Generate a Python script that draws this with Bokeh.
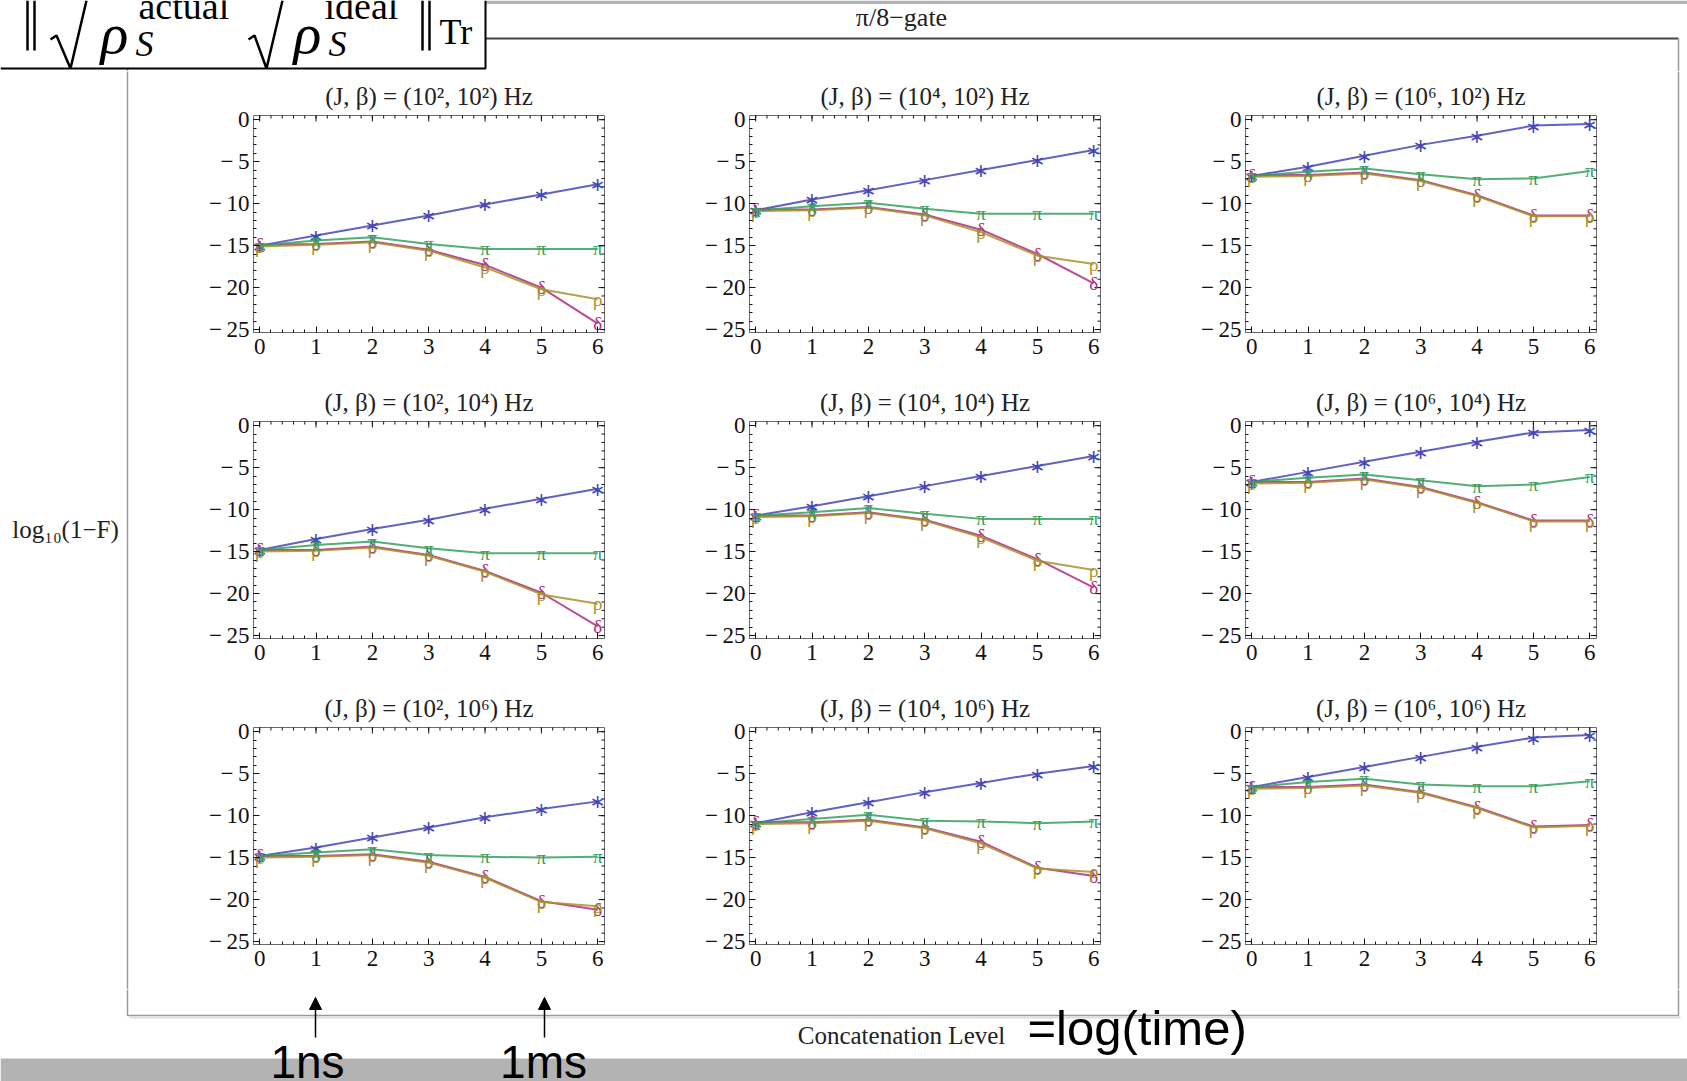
import math
from bokeh.plotting import figure
from bokeh.layouts import row, column
from bokeh.models import Range1d, FixedTicker, LinearAxis, Arrow, NormalHead
from bokeh.core.properties import value
from bokeh.embed import file_html
from bokeh.resources import INLINE

# ---------------- data ----------------
levels = [0, 1, 2, 3, 4, 5, 6]
x_ticks = [0, 1, 2, 3, 4, 5, 6]
y_ticks = [-25, -20, -15, -10, -5, 0]
J_labels = ["10²", "10⁴", "10⁶"]
beta_labels = ["10²", "10⁴", "10⁶"]

J2_B2_blue = [-15.0, -13.8, -12.6, -11.4, -10.1, -8.9, -7.7]
J2_B2_green = [-15.0, -14.4, -14.0, -14.8, -15.4, -15.4, -15.4]
J2_B2_magenta = [-14.9, -14.8, -14.5, -15.5, -17.3, -20.0, -24.3]
J2_B2_olive = [-15.1, -14.9, -14.6, -15.6, -17.6, -20.2, -21.4]

J4_B2_blue = [-10.8, -9.5, -8.4, -7.2, -6.0, -4.8, -3.6]
J4_B2_green = [-10.8, -10.3, -9.9, -10.6, -11.2, -11.2, -11.2]
J4_B2_magenta = [-10.7, -10.7, -10.4, -11.3, -13.1, -16.0, -19.5]
J4_B2_olive = [-10.9, -10.8, -10.5, -11.4, -13.4, -16.2, -17.2]

J6_B2_blue = [-6.7, -5.6, -4.3, -3.0, -1.9, -0.7, -0.5]
J6_B2_green = [-6.7, -6.2, -5.8, -6.5, -7.1, -7.0, -6.1]
J6_B2_magenta = [-6.6, -6.6, -6.3, -7.2, -9.0, -11.4, -11.4]
J6_B2_olive = [-6.8, -6.7, -6.4, -7.3, -9.1, -11.5, -11.5]

J2_B4_blue = [-14.8, -13.5, -12.3, -11.2, -9.9, -8.7, -7.5]
J2_B4_green = [-14.8, -14.2, -13.8, -14.6, -15.2, -15.2, -15.2]
J2_B4_magenta = [-14.8, -14.8, -14.4, -15.4, -17.3, -19.9, -23.9]
J2_B4_olive = [-15.0, -14.9, -14.5, -15.5, -17.4, -20.1, -21.2]

J4_B4_blue = [-10.7, -9.6, -8.4, -7.2, -6.0, -4.8, -3.6]
J4_B4_green = [-10.7, -10.3, -9.8, -10.5, -11.1, -11.1, -11.1]
J4_B4_magenta = [-10.7, -10.7, -10.3, -11.2, -13.1, -15.9, -19.3]
J4_B4_olive = [-10.9, -10.8, -10.4, -11.3, -13.3, -16.1, -17.2]

J6_B4_blue = [-6.7, -5.5, -4.3, -3.1, -1.9, -0.8, -0.5]
J6_B4_green = [-6.7, -6.2, -5.8, -6.5, -7.2, -7.0, -6.1]
J6_B4_magenta = [-6.7, -6.7, -6.3, -7.3, -9.1, -11.3, -11.3]
J6_B4_olive = [-6.9, -6.8, -6.4, -7.4, -9.2, -11.4, -11.4]

J2_B6_blue = [-14.8, -13.8, -12.6, -11.4, -10.2, -9.2, -8.3]
J2_B6_green = [-14.8, -14.4, -14.0, -14.7, -14.9, -15.0, -14.9]
J2_B6_magenta = [-14.8, -14.8, -14.6, -15.5, -17.3, -20.2, -21.2]
J2_B6_olive = [-15.0, -14.9, -14.7, -15.6, -17.4, -20.3, -20.8]

J4_B6_blue = [-10.9, -9.6, -8.4, -7.2, -6.1, -5.0, -4.1]
J4_B6_green = [-10.9, -10.4, -9.9, -10.6, -10.7, -10.9, -10.7]
J4_B6_magenta = [-10.8, -10.8, -10.5, -11.4, -13.1, -16.2, -17.2]
J4_B6_olive = [-11.0, -10.9, -10.6, -11.5, -13.3, -16.3, -16.7]

J6_B6_blue = [-6.6, -5.4, -4.2, -3.0, -1.8, -0.7, -0.4]
J6_B6_green = [-6.6, -6.0, -5.6, -6.3, -6.5, -6.5, -5.9]
J6_B6_magenta = [-6.6, -6.6, -6.3, -7.2, -9.0, -11.3, -11.1]
J6_B6_olive = [-6.8, -6.7, -6.4, -7.3, -9.1, -11.4, -11.2]

panel_data = [
    [(J2_B2_blue, J2_B2_green, J2_B2_magenta, J2_B2_olive),
     (J4_B2_blue, J4_B2_green, J4_B2_magenta, J4_B2_olive),
     (J6_B2_blue, J6_B2_green, J6_B2_magenta, J6_B2_olive)],
    [(J2_B4_blue, J2_B4_green, J2_B4_magenta, J2_B4_olive),
     (J4_B4_blue, J4_B4_green, J4_B4_magenta, J4_B4_olive),
     (J6_B4_blue, J6_B4_green, J6_B4_magenta, J6_B4_olive)],
    [(J2_B6_blue, J2_B6_green, J2_B6_magenta, J2_B6_olive),
     (J4_B6_blue, J4_B6_green, J4_B6_magenta, J4_B6_olive),
     (J6_B6_blue, J6_B6_green, J6_B6_magenta, J6_B6_olive)],
]

# ---------------- style ----------------
SERIF = "Liberation Serif"
SANS = "Liberation Sans"
C_BLUE = "#4646b8"
C_GREEN = "#35a060"
C_MAGENTA = "#b02c80"
C_OLIVE = "#a8922a"
series_style = [  # (color, marker text, marker font)
    (C_BLUE, "∗", "DejaVu Sans"),
    (C_MAGENTA, "δ", SERIF),
    (C_OLIVE, "ρ", SERIF),
    (C_GREEN, "π", SERIF),
]
FRAME_GRAY = "#9a9a9a"

TOTAL_W = 1687
TOTAL_H = 1081
TOP_H = 71
LEFT_W = 193
FW, FH = 351, 217
PL, PR, PT, PB = 60, 85, 44, 45
PR_LAST = 20
PANEL_H = PT + FH + PB
MID_H = 3 * PANEL_H
RIGHT_W = TOTAL_W - LEFT_W - 2 * (PL + FW + PR) - (PL + FW + PR_LAST)
BOT_Y0 = TOP_H + MID_H
BOT_H = TOTAL_H - BOT_Y0
X0, X1 = -0.11, 6.12
Y0, Y1 = -25.35, 0.5

tick_text = {t: (str(t).replace("-", "−\u2009") if t < 0 else str(t)) for t in y_ticks}
x_minor = [i / 5 for i in range(0, 31)]
y_minor = list(range(-25, 1))


def make_panel(r, c):
    right = PR_LAST if c == 2 else PR
    p = figure(width=PL + FW + right, height=PANEL_H,
               x_range=Range1d(X0, X1), y_range=Range1d(Y0, Y1),
               output_backend="svg", toolbar_location=None,
               x_axis_location=None, y_axis_location=None,
               min_border_left=PL, min_border_right=right,
               min_border_top=PT, min_border_bottom=PB)
    for g in p.xgrid + p.ygrid:
        g.visible = False
    p.outline_line_color = "#6a6a6a"
    p.title.text = f"(J, β) = ({J_labels[c]}, {beta_labels[r]}) Hz"
    p.title.text_font = SERIF
    p.title.text_font_size = "25px"
    p.title.text_font_style = "normal"
    p.title.text_color = "#222222"
    p.title.align = "center"
    p.title.standoff = 11
    xt = FixedTicker(ticks=x_ticks, minor_ticks=x_minor)
    yt = FixedTicker(ticks=y_ticks, minor_ticks=y_minor)
    for loc in ["below", "left"]:
        ax = LinearAxis(ticker=xt if loc == "below" else yt)
        ax.axis_line_color = "#6a6a6a"
        ax.major_tick_line_color = "#111111"
        ax.minor_tick_line_color = "#111111"
        ax.major_tick_in = 6
        ax.major_tick_out = 0
        ax.minor_tick_in = 3
        ax.minor_tick_out = 0
        ax.major_label_text_font = SERIF
        ax.major_label_text_color = "#111111"
        ax.major_label_text_font_size = "23px"
        ax.major_label_standoff = 6 if loc == "below" else 4
        if loc == "left":
            ax.major_label_overrides = tick_text
        p.add_layout(ax, loc)
    # mirrored inward ticks on the top and right frame edges
    p.scatter(x_ticks, [Y1] * len(x_ticks), marker="dash", angle=math.pi / 2, size=12,
              line_color="#111111", line_width=1)
    p.scatter(x_minor, [Y1] * len(x_minor), marker="dash", angle=math.pi / 2, size=6,
              line_color="#111111", line_width=1)
    p.scatter([X1] * len(y_ticks), y_ticks, marker="dash", size=12,
              line_color="#111111", line_width=1)
    p.scatter([X1] * len(y_minor), y_minor, marker="dash", size=6,
              line_color="#111111", line_width=1)

    blue, green, magenta, olive = panel_data[r][c]
    for vals, (col, mk, mfont) in zip([blue, magenta, olive, green], series_style):
        p.line(levels, vals, line_color=col, line_width=2, line_alpha=0.85)
        p.text(levels, vals, text=[mk] * len(levels), text_color=col,
               text_font=value(mfont), text_font_size="19px",
               text_align="center", text_baseline="middle")
    return p


def strip(w, h):
    s = figure(width=w, height=h, x_range=Range1d(0, w), y_range=Range1d(h, 0),
               output_backend="svg", toolbar_location=None,
               x_axis_location=None, y_axis_location=None, min_border=0)
    s.outline_line_color = None
    for g in s.xgrid + s.ygrid:
        g.visible = False
    return s


# ---------------- top strip ----------------
top = strip(TOTAL_W, TOP_H)
top.quad(left=[485], right=[TOTAL_W], top=[0], bottom=[3.5], fill_color="#b3b3b3", line_color=None)
top.line([485, 1678], [38, 38], line_color="#444444", line_width=2)
top.line([1678, 1678], [38, TOP_H], line_color=FRAME_GRAY, line_width=1.5)
top.line([127, 127], [68, TOP_H], line_color=FRAME_GRAY, line_width=1.5)
top.line([0, 485, 485], [68, 68, 0], line_color="black", line_width=2)
top.text([901], [17], text=["π/8−gate"], text_font=value(SERIF), text_font_size="26px",
         text_align="center", text_baseline="middle", text_color="#222222")
# formula  || sqrt(rho_S^actual) sqrt(rho_S^ideal) ||_Tr
for xx in (27, 34, 422, 429):
    top.line([xx, xx], [0, 50], line_color="black", line_width=2.5)
top.line([50, 56, 70, 86], [39, 35, 68, 0], line_color="black", line_width=2.5)
top.line([248, 254, 266, 282], [39, 35, 68, 0], line_color="black", line_width=2.5)
top.text([114, 307], [33, 33], text=["ρ", "ρ"], text_font=value(SERIF), text_font_style="italic",
         text_font_size="58px", text_align="center", text_baseline="middle", text_color="black")
top.text([144, 337], [43, 43], text=["S", "S"], text_font=value(SERIF), text_font_style="italic",
         text_font_size="36px", text_align="center", text_baseline="middle", text_color="black")
top.text([138, 324], [5, 5], text=["actual", "ideal"], text_font=value(SERIF),
         text_font_size="38px", text_align="left", text_baseline="middle", text_color="black")
top.text([439], [31], text=["Tr"], text_font=value(SERIF), text_font_size="36px",
         text_align="left", text_baseline="middle", text_color="black")

# ---------------- side strips ----------------
left = strip(LEFT_W, MID_H)
left.line([127, 127], [0, MID_H], line_color=FRAME_GRAY, line_width=1.5)
left.text([65], [529 - TOP_H], text=["log₁₀(1−F)"], text_font=value(SERIF), text_font_size="25px",
          text_align="center", text_baseline="middle", text_color="#222222")

right = strip(RIGHT_W, MID_H)
right.line([RIGHT_W - 9, RIGHT_W - 9], [0, MID_H], line_color=FRAME_GRAY, line_width=1.5)

# ---------------- bottom strip (local y = page y - BOT_Y0) ----------------
bot = strip(TOTAL_W, BOT_H)
fb = 1015 - BOT_Y0
bot.line([127, 127, 1678, 1678], [0, fb, fb, 0], line_color=FRAME_GRAY, line_width=1.5)
bot.line([129, 1680], [fb + 2, fb + 2], line_color="#dddddd", line_width=2)
bot.quad(left=[0], right=[TOTAL_W], top=[1058 - BOT_Y0], bottom=[BOT_H],
         fill_color="#b3b3b3", line_color=None)
for ax_x in (315, 544):
    bot.add_layout(Arrow(x_start=ax_x, y_start=1037 - BOT_Y0, x_end=ax_x, y_end=997 - BOT_Y0,
                         line_width=1.5, line_color="black",
                         end=NormalHead(size=12, fill_color="black", line_color="black")))
bot.text([307, 543], [1061 - BOT_Y0] * 2, text=["1ns", "1ms"], text_font=value(SANS),
         text_font_size="46px", text_align="center", text_baseline="middle", text_color="black")
bot.text([901], [1035 - BOT_Y0], text=["Concatenation Level"], text_font=value(SERIF),
         text_font_size="25px", text_align="center", text_baseline="middle", text_color="#222222")
bot.text([1027], [1027 - BOT_Y0], text=["=log(time)"], text_font=value(SANS), text_font_size="49px",
         text_align="left", text_baseline="middle", text_color="black")

panels = [[make_panel(r, c) for c in range(3)] for r in range(3)]
grid = column(*[row(*panels[r]) for r in range(3)])
layout = column(top, row(left, grid, right), bot)

open("out.html", "w").write(file_html(layout, INLINE))
